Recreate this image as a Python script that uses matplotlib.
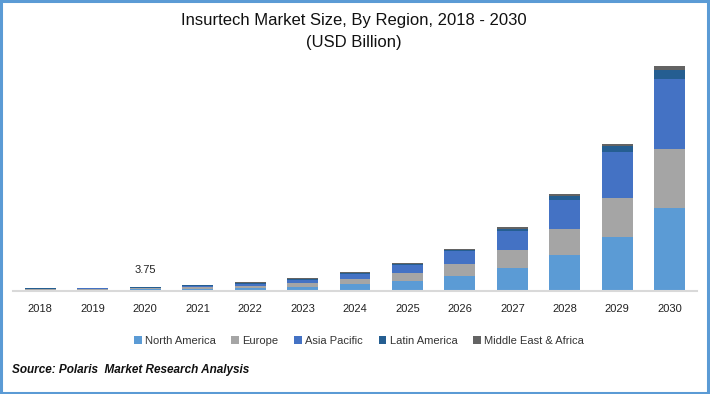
import matplotlib.pyplot as plt
from matplotlib.patches import Rectangle
import numpy as np

plt.rcParams['font.family'] = ['Liberation Sans', 'DejaVu Sans']

# market size by region, USD billion
years = ['2018', '2019', '2020', '2021', '2022', '2023', '2024',
         '2025', '2026', '2027', '2028', '2029', '2030']
north_america = [1.0, 1.2, 1.5, 2.2, 3.1, 3.8, 6.6, 9.4, 14.1, 21.3, 33.6, 50.5, 78.0]
europe = [0.6, 0.7, 0.9, 1.3, 1.9, 3.8, 4.7, 7.5, 11.3, 16.9, 24.4, 36.7, 55.2]
asia_pacific = [0.5, 0.6, 0.8, 1.2, 1.9, 2.8, 4.7, 7.5, 12.2, 17.9, 27.3, 43.2, 65.8]
latin_america = [0.3, 0.3, 0.3, 0.5, 0.9, 0.9, 0.9, 0.9, 0.9, 2.5, 4.0, 5.6, 8.5]
mea = [0.2, 0.2, 0.25, 0.3, 0.6, 0.9, 0.9, 0.9, 0.9, 1.2, 1.6, 1.9, 4.0]

series = [
    ('North America', north_america, '#5B9BD5'),
    ('Europe', europe, '#A5A5A5'),
    ('Asia Pacific', asia_pacific, '#4472C4'),
    ('Latin America', latin_america, '#255E91'),
    ('Middle East & Africa', mea, '#636363'),
]

W, H = 710, 394
fig = plt.figure(figsize=(W / 100, H / 100), dpi=100)
ax = fig.add_axes([13 / W, (H - 291) / H, 684 / W, 240 / H])

x = np.arange(len(years))
bottom = np.zeros(len(years))
handles = []
for name, vals, color in series:
    b = ax.bar(x, vals, width=0.59, bottom=bottom, color=color, label=name, zorder=2)
    handles.append(b)
    bottom += np.array(vals)

totals = bottom
ax.set_xlim(-0.52, len(years) - 0.48)
ax.set_ylim(0, totals.max() * 240 / 225)

# data label for 2020
ax.annotate(f'{totals[2]:.2f}', (x[2], totals[2]), xytext=(0, 9), textcoords='offset points',
            ha='center', va='bottom', fontsize=8, color='#222222')

for s in ['top', 'right', 'left']:
    ax.spines[s].set_visible(False)
ax.spines['bottom'].set_color('#D9D9D9')
ax.spines['bottom'].set_linewidth(1.5)
ax.set_yticks([])
ax.set_xticks(x)
ax.set_xticklabels(years, fontsize=8, color='#222222')
ax.tick_params(axis='x', length=0, pad=9)

fig.text(354 / W, 1 - 20 / H, 'Insurtech Market Size, By Region, 2018 - 2030',
         ha='center', va='center', fontsize=12, color='#111111')
fig.text(354 / W, 1 - 43 / H, '(USD Billion)', ha='center', va='center',
         fontsize=12, color='#111111')

fig.legend(handles=handles, labels=[s[0] for s in series], loc='center',
           bbox_to_anchor=(359 / W, 1 - 341 / H), ncol=5, frameon=False,
           fontsize=8, handlelength=0.7, handleheight=0.7, handletextpad=0.3,
           columnspacing=1.4, labelcolor='#333333')

fig.text(12 / W, 1 - 370 / H, 'Source: Polaris  Market Research Analysis',
         ha='left', va='center', fontsize=8.5, fontweight='bold', fontstyle='italic',
         color='#111111')

fig.patches.append(Rectangle((0.0015, 0.002), 0.996, 0.995, transform=fig.transFigure,
                             fill=False, edgecolor='#5B9BD5', linewidth=2.2))

fig.savefig('out.png', dpi=100)
